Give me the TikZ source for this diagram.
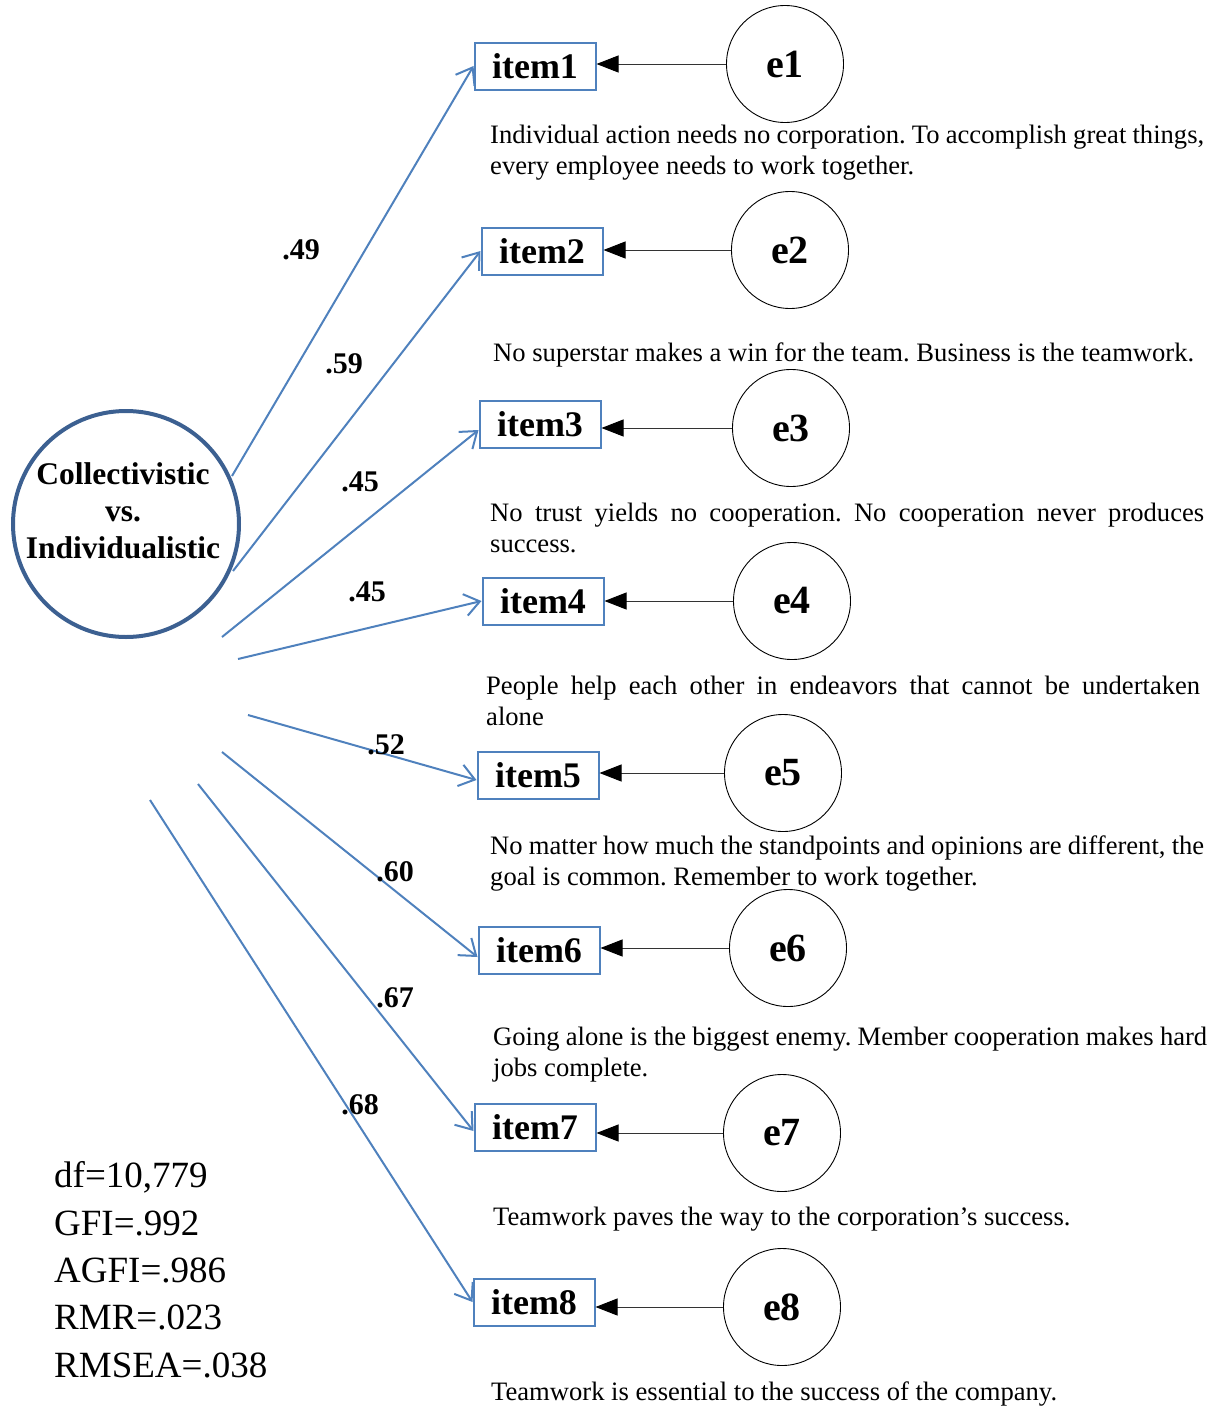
\documentclass[tikz,border=0pt]{standalone}
\usepackage{fontspec}
\setmainfont{Liberation Serif}
\usetikzlibrary{arrows.meta}
\definecolor{pathblue}{HTML}{4F81BD}
\definecolor{latentblue}{HTML}{3C6091}
\frenchspacing
\begin{document}
\begin{tikzpicture}[x=1pt,y=-1pt,
  itembox/.style={draw=pathblue, line width=2pt, minimum width=121pt, minimum height=47pt,
    inner sep=0pt, font=\fontsize{36}{40}\selectfont\bfseries},
  errcirc/.style={draw=black, line width=0.9pt, circle, minimum size=117pt, inner sep=0pt,
    font=\fontsize{40}{44}\selectfont\bfseries},
  loading/.style={draw=pathblue, line width=2pt,
    -{Straight Barb[length=15pt,width=22pt,line width=2pt]}},
  errpath/.style={draw=black!80, line width=0.9pt, -{Triangle[length=22pt,width=17pt,color=black]}},
  coef/.style={font=\fontsize{30}{34}\selectfont\bfseries, inner sep=0pt},
  desc/.style={anchor=base west, inner sep=0pt, align=left, font=\fontsize{26.6}{31}\selectfont},
]
\useasboundingbox (0,0) rectangle (1214,1408);

% latent factor
\node[draw=latentblue, line width=4pt, circle, minimum size=226pt, inner sep=0pt] (lat) at (126,524) {};
\node[align=center, inner sep=0pt, font=\fontsize{31.5}{37}\selectfont\bfseries] (latlabel) at (123,511)
  {Collectivistic\\vs.\\Individualistic};

% observed items
\node[itembox] (item1) at (535,66) {item1};
\node[itembox] (item2) at (542,251) {item2};
\node[itembox] (item3) at (540,424) {item3};
\node[itembox] (item4) at (543,601) {item4};
\node[itembox] (item5) at (538,775) {item5};
\node[itembox] (item6) at (539,950) {item6};
\node[itembox] (item7) at (535,1127) {item7};
\node[itembox] (item8) at (534,1302) {item8};

% error terms
\node[errcirc] (e1) at (785,64) {e1};
\node[errcirc] (e2) at (790,250) {e2};
\node[errcirc] (e3) at (791,428) {e3};
\node[errcirc] (e4) at (792,601) {e4};
\node[errcirc] (e5) at (783,773) {e5};
\node[errcirc] (e6) at (788,948) {e6};
\node[errcirc] (e7) at (782,1133) {e7};
\node[errcirc] (e8) at (782,1307) {e8};

\foreach \i in {1,...,8}
  \draw[errpath] (e\i.west) -- (item\i.east |- e\i.west);

% loading paths start just outside the factor circle
\coordinate (s1) at (232,476);
\coordinate (s2) at (233,571);
\coordinate (s3) at (222,637);
\coordinate (s4) at (238,659);
\coordinate (s5) at (248,715);
\coordinate (s6) at (222,752);
\coordinate (s7) at (198,784);
\coordinate (s8) at (150,800);

\draw[loading] (s1) -- (item1.west);
\draw[loading] (s2) -- (item2.west);
\draw[loading] (s3) -- ([yshift=-6pt]item3.west);
\draw[loading] (s4) -- (item4.west);
\draw[loading] (s5) -- ([yshift=-5pt]item5.west);
\draw[loading] (s6) -- ([yshift=-7pt]item6.west);
\draw[loading] (s7) -- ([yshift=-4pt]item7.west);
\draw[loading] (s8) -- (item8.west);

% standardized loadings
\node[coef] (c1) at (301,250) {.49};
\node[coef] (c2) at (344,364) {.59};
\node[coef] (c3) at (360,482) {.45};
\node[coef] (c4) at (367,592) {.45};
\node[coef] (c5) at (386,745) {.52};
\node[coef] (c6) at (395,872) {.60};
\node[coef] (c7) at (395,998) {.67};
\node[coef] (c8) at (360,1105) {.68};

% item wordings (anchored on the baseline of the last line)
\node[desc] (d1) at (490,174)
  {\makebox[714pt][s]{Individual action needs no corporation. To accomplish great things,}\\every employee needs to work together.};
\node[desc] (d2) at (493,361)
  {No superstar makes a win for the team. Business is the teamwork.};
\node[desc] (d3) at (490,552)
  {\makebox[714pt][s]{No trust yields no cooperation. No cooperation never produces}\\success.};
\node[desc] (d4) at (486,725)
  {\makebox[714pt][s]{People help each other in endeavors that cannot be undertaken}\\alone};
\node[desc] (d5) at (490,885)
  {\makebox[714pt][s]{No matter how much the standpoints and opinions are different, the}\\goal is common. Remember to work together.};
\node[desc] (d6) at (493,1076)
  {\makebox[714pt][s]{Going alone is the biggest enemy. Member cooperation makes hard}\\jobs complete.};
\node[desc] (d7) at (493,1225)
  {Teamwork paves the way to the corporation’s success.};
\node[desc] (d8) at (491,1400)
  {Teamwork is essential to the success of the company.};

% fit indices
\node[anchor=base west, inner sep=0pt, align=left, font=\fontsize{37}{47.3}\selectfont] (fit) at (54,1377)
  {df=10,779\\GFI=.992\\AGFI=.986\\RMR=.023\\RMSEA=.038};
\end{tikzpicture}
\end{document}
